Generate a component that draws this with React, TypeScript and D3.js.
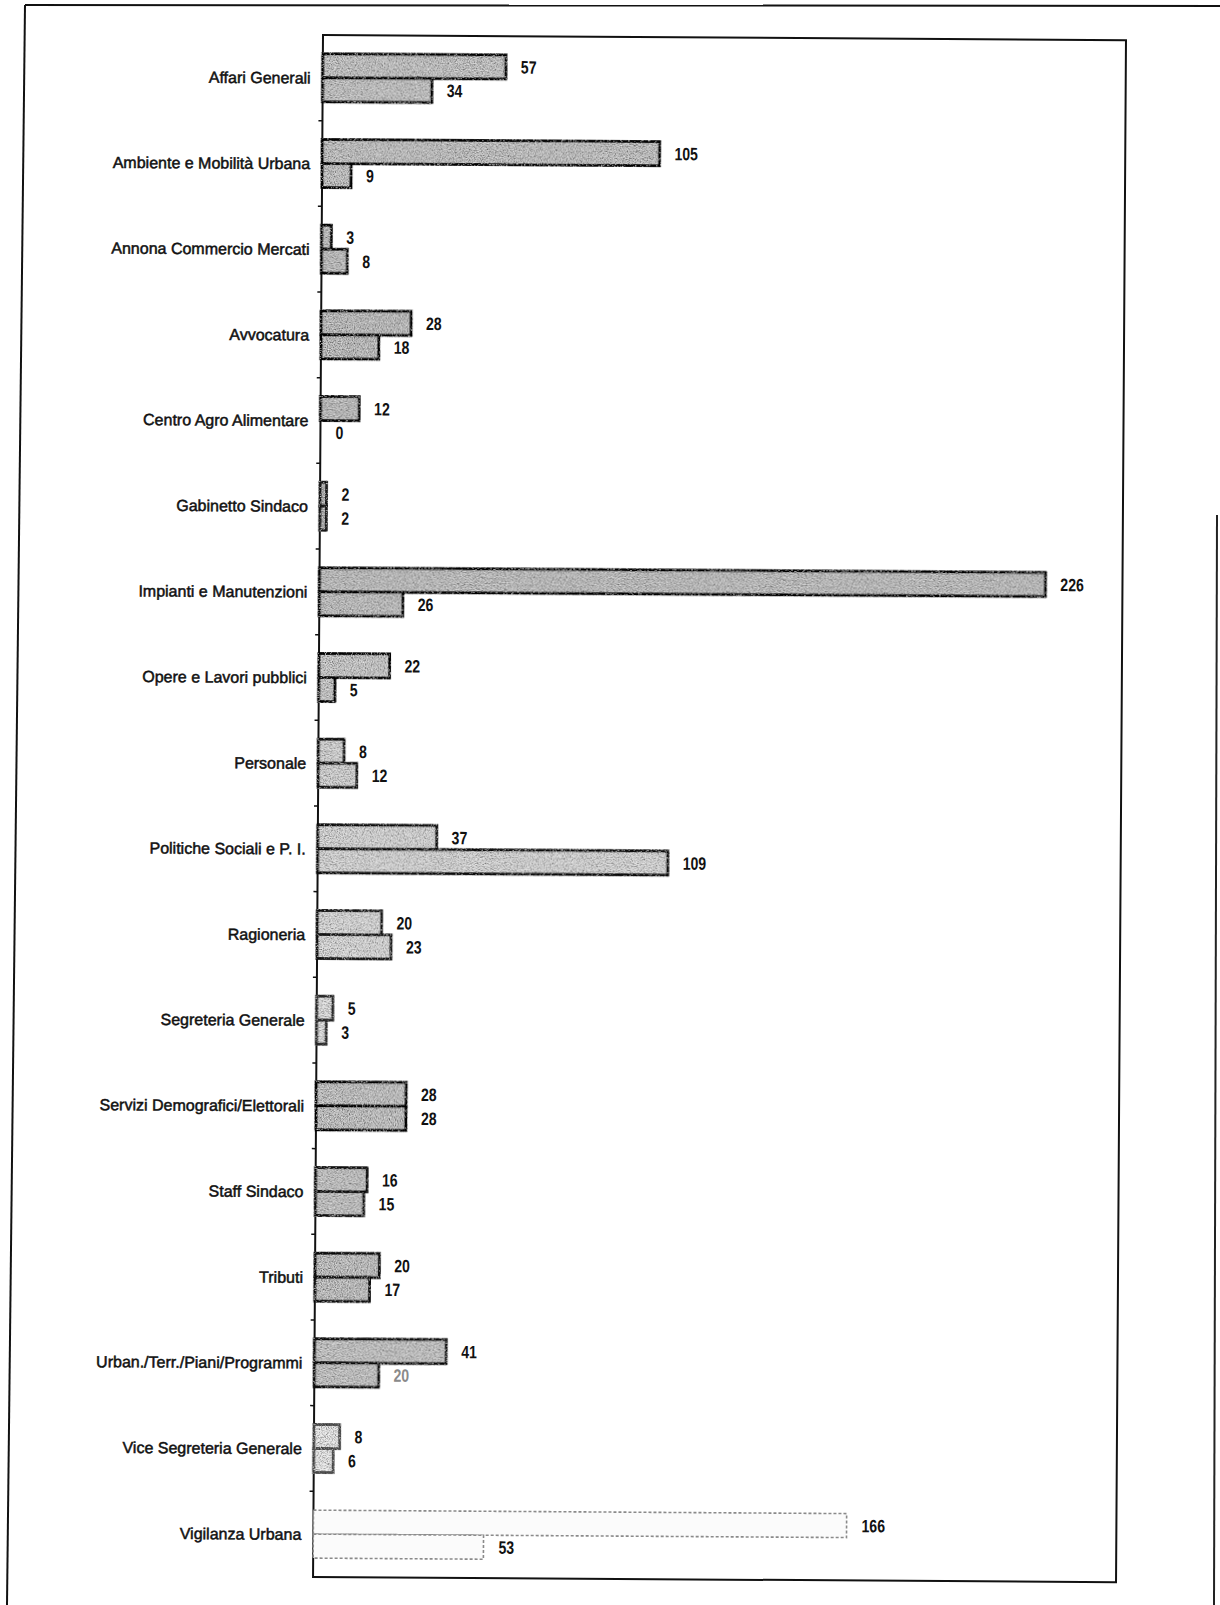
import React from "react";
import * as d3 from "d3";

const categories = [
  "Affari Generali",
  "Ambiente e Mobilità Urbana",
  "Annona Commercio Mercati",
  "Avvocatura",
  "Centro Agro Alimentare",
  "Gabinetto Sindaco",
  "Impianti e Manutenzioni",
  "Opere e Lavori pubblici",
  "Personale",
  "Politiche Sociali e P. I.",
  "Ragioneria",
  "Segreteria Generale",
  "Servizi Demografici/Elettorali",
  "Staff Sindaco",
  "Tributi",
  "Urban./Terr./Piani/Programmi",
  "Vice Segreteria Generale",
  "Vigilanza Urbana",
];

const seriesA = [57, 105, 3, 28, 12, 2, 226, 22, 8, 37, 20, 5, 28, 16, 20, 41, 8, 166];
const seriesB = [34, 9, 8, 18, 0, 2, 26, 5, 12, 109, 23, 3, 28, 15, 17, 20, 6, 53];

const axisMax = 250;

// per-category tones as they appear in the scan
const fillTones = [
  "#c6c6c6", "#c4c4c4", "#c2c2c2", "#c0c0c0", "#c0c0c0", "#b6b6b6",
  "#c2c2c2", "#cacaca", "#d4d4d4", "#d8d8d8", "#dadada", "#e0e0e0",
  "#c4c4c4", "#c6c6c6", "#c2c2c2", "#c8c8c8", "#e8e8e8", "#fbfbfb",
];
const strokeTones = [
  "#111", "#111", "#111", "#111", "#111", "#222",
  "#111", "#111", "#181818", "#181818", "#1c1c1c", "#333",
  "#111", "#151515", "#151515", "#151515", "#555", "#8a8a8a",
];

const W = 1220;
const H = 1605;
const plot = { left: 323, top: 35, right: 1126, bottom: 1577 };

export default function App() {
  const y = d3
    .scaleBand<string>()
    .domain(categories)
    .range([plot.top, plot.bottom])
    .paddingInner(0.44)
    .paddingOuter(0.22);
  const inner = d3.scaleBand<string>().domain(["a", "b"]).range([0, y.bandwidth()]).padding(0);
  const x = d3.scaleLinear().domain([0, axisMax]).range([plot.left, plot.right]);
  const step = y.step();
  const boundaries = d3.range(1, categories.length).map((i) => plot.top + i * step);

  const rects: any[] = [];
  const plainRects: any[] = [];
  const labels: any[] = [];
  categories.forEach((c, i) => {
    [
      { key: "a", v: seriesA[i] },
      { key: "b", v: seriesB[i] },
    ].forEach((s) => {
      const by = (y(c) as number) + (inner(s.key) as number);
      const bh = inner.bandwidth();
      const isLast = i === categories.length - 1;
      if (s.v > 0) {
        const r = (
          <rect
            key={c + s.key}
            x={x(0)}
            y={by}
            width={x(s.v) - x(0)}
            height={bh}
            fill={fillTones[i]}
            stroke={strokeTones[i]}
            strokeWidth={isLast ? 1.6 : 2.8}
            strokeDasharray={isLast ? "3 2" : undefined}
          />
        );
        (isLast ? plainRects : rects).push(r);
      }
      const faded = i === 15 && s.key === "b";
      labels.push(
        <text
          key={c + s.key + "t"}
          transform={`translate(${x(s.v) + 15},${by + bh / 2}) scale(0.78,1)`}
          dy="0.36em"
          fontFamily="'Liberation Sans', Arial, sans-serif"
          fontWeight="bold"
          fontSize={18}
          fill={faded ? "#8a8a8a" : "#111"}
        >
          {s.v}
        </text>
      );
    });
  });

  return (
    <svg
      width={W}
      height={H}
      viewBox={`0 0 ${W} ${H}`}
      style={{ position: "absolute", left: 0, top: 0, background: "#fff" }}
    >
      <defs>
        <filter id="grain" x="-2%" y="-5%" width="104%" height="110%">
          <feTurbulence type="fractalNoise" baseFrequency="0.85" numOctaves="2" seed="7" result="n" />
          <feColorMatrix
            in="n"
            type="matrix"
            values="0 0 0 0 0  0 0 0 0 0  0 0 0 0 0  2.2 0 0 0 -0.95"
            result="dark"
          />
          <feComposite in="dark" in2="SourceAlpha" operator="in" result="darkIn" />
          <feColorMatrix
            in="n"
            type="matrix"
            values="0 0 0 0 1  0 0 0 0 1  0 0 0 0 1  -2.2 0 0 0 0.9"
            result="light"
          />
          <feComposite in="light" in2="SourceAlpha" operator="in" result="lightIn" />
          <feMerge>
            <feMergeNode in="SourceGraphic" />
            <feMergeNode in="darkIn" />
            <feMergeNode in="lightIn" />
          </feMerge>
        </filter>
      </defs>
      <rect x={0} y={0} width={W} height={H} fill="#fff" />
      {/* scanned page frame */}
      <path d="M25,5 L1220,6" stroke="#111" strokeWidth={2} fill="none" />
      <path d="M25,5 L7,1605" stroke="#111" strokeWidth={2} fill="none" />
      <path d="M1217,515 L1214,1605" stroke="#222" strokeWidth={2} fill="none" />
      <g transform={`rotate(0.37, ${plot.left}, ${plot.top})`}>
        <rect
          x={plot.left}
          y={plot.top}
          width={plot.right - plot.left}
          height={plot.bottom - plot.top}
          fill="none"
          stroke="#111"
          strokeWidth={2}
        />
        {boundaries.map((b, i) => (
          <line key={i} x1={plot.left - 4} x2={plot.left} y1={b} y2={b} stroke="#111" strokeWidth={1.5} />
        ))}
        {categories.map((c) => (
          <text
            key={c}
            x={plot.left - 12}
            y={(y(c) as number) + y.bandwidth() / 2}
            dy="0.36em"
            textAnchor="end"
            fontFamily="'Liberation Sans', Arial, sans-serif"
            fontSize={16}
            fill="#111"
            stroke="#111"
            strokeWidth={0.5}
          >
            {c}
          </text>
        ))}
        <g filter="url(#grain)">{rects}</g>
        {plainRects}
        {labels}
      </g>
    </svg>
  );
}
